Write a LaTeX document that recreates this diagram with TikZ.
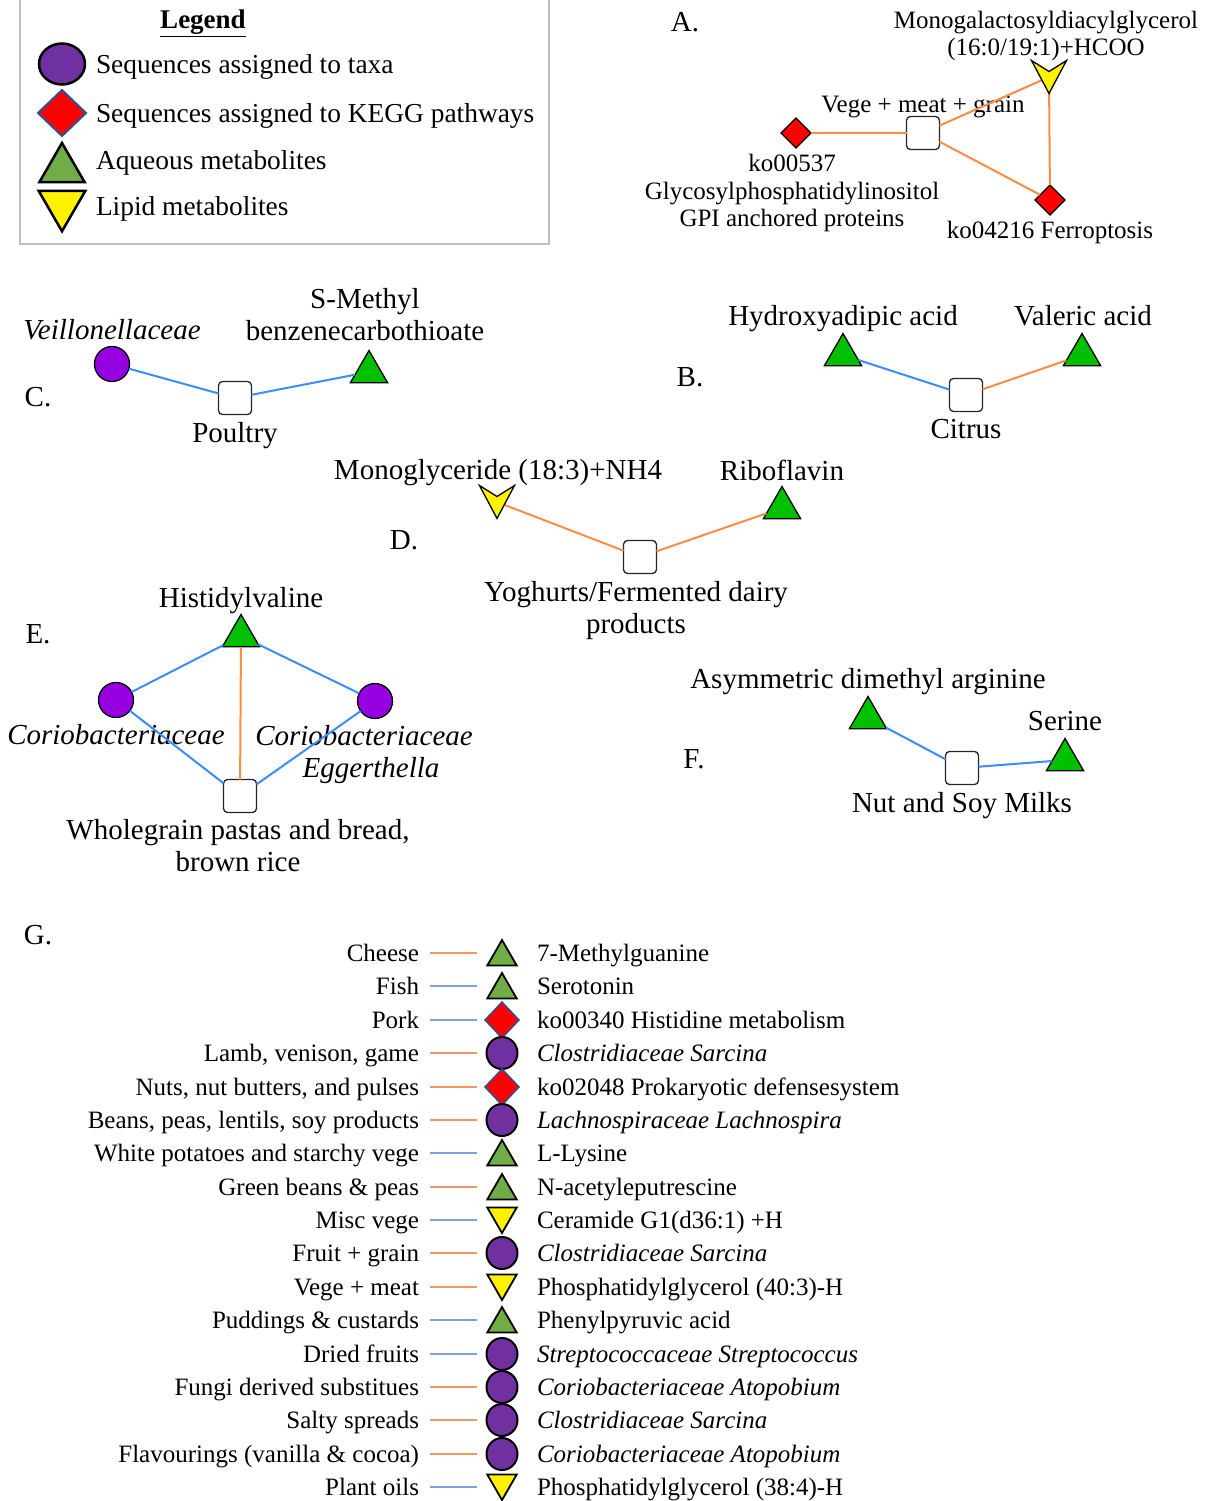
\documentclass[tikz,border=0pt]{standalone}
\usepackage{fontspec}
\setmainfont{Liberation Serif}
\usetikzlibrary{shapes.geometric,positioning}

\begin{document}
\begin{tikzpicture}[x=1pt,y=-1pt,
  every node/.style={inner sep=0pt,outer sep=0pt},
  txt/.style={font=\fontsize{29}{32}\selectfont,align=center},
  txta/.style={font=\fontsize{25}{27.5}\selectfont,align=center},
  txtl/.style={font=\fontsize{27.4}{30}\selectfont,anchor=west},
  txtg/.style={font=\fontsize{25}{30}\selectfont,text height=17pt,text depth=6pt},
  % network shapes
  sq/.style={draw=black!85,line width=1.3pt,rounded corners=4pt,fill=white,minimum size=33pt},
  ncirc/.style={circle,draw,line width=1.3pt,fill=nviolet,minimum size=35pt},
  ntri/.style={regular polygon,regular polygon sides=3,draw,line width=1.3pt,fill=ngreen,minimum size=43pt,yshift=-5pt},
  ndia/.style={diamond,draw,line width=1.3pt,fill=red,minimum size=30pt},
  vmark/.style={minimum width=35pt,minimum height=33pt},
  vfill/.style={draw,line width=1.3pt,fill=yellow,line join=miter},
  oedge/.style={draw=eorange,line width=2pt},
  bedge/.style={draw=eblue,line width=2pt},
  % legend and list shapes
  lcirc/.style={ellipse,draw,line width=2.5pt,fill=lpurple,minimum width=46pt,minimum height=41pt},
  ldia/.style={diamond,draw=lblue,line width=2pt,fill=red,minimum width=48pt,minimum height=46pt},
  ltri/.style={regular polygon,regular polygon sides=3,draw,line width=2.5pt,fill=lgreen,minimum size=52pt,yshift=-6.5pt},
  ldown/.style={regular polygon,regular polygon sides=3,regular polygon rotate=180,draw,line width=2.5pt,fill=yellow,minimum size=54pt,yshift=6.75pt},
  gtri/.style={regular polygon,regular polygon sides=3,draw,line width=1.8pt,fill=lgreen,minimum size=34pt,yshift=-4pt},
  gdown/.style={regular polygon,regular polygon sides=3,regular polygon rotate=180,draw,line width=1.8pt,fill=yellow,minimum size=34pt,yshift=4pt},
  gdia/.style={diamond,draw=lblue,line width=1.5pt,fill=red,minimum width=34pt,minimum height=36pt},
  gcirc/.style={ellipse,draw,line width=2pt,fill=lpurple,minimum width=31pt,minimum height=32pt},
  go/.style={draw=gorange,line width=2pt},
  gb/.style={draw=gblue,line width=2pt}]
\definecolor{nviolet}{RGB}{150,0,225}
\definecolor{ngreen}{RGB}{0,192,0}
\definecolor{lpurple}{RGB}{112,48,160}
\definecolor{lgreen}{RGB}{112,173,71}
\definecolor{lblue}{RGB}{47,82,143}
\definecolor{eorange}{RGB}{255,140,66}
\definecolor{eblue}{RGB}{60,140,255}
\definecolor{gorange}{RGB}{248,150,95}
\definecolor{gblue}{RGB}{130,160,220}
\useasboundingbox[fill=white] (0,0) rectangle (1209,1501);

% Legend
\draw[black!25,line width=1.2pt] (20,-10) rectangle (549,244);
\node[font=\fontsize{27}{30}\selectfont\bfseries] (legtitle) at (203,23) {\underline{Legend}};
\node[lcirc] (legtaxa) at (62,64) {};
\node[ldia] (legkegg) at (62,113) {};
\node[ltri] (legaq) at (62,162.5) {};
\node[ldown] (leglip) at (62,211) {};
\node[txtl] (legtaxat) at (96,67) {Sequences assigned to taxa};
\node[txtl] (legkeggt) at (96,116) {Sequences assigned to KEGG pathways};
\node[txtl] (legaqt) at (96,163) {Aqueous metabolites};
\node[txtl] (leglipt) at (96,209) {Lipid metabolites};

% Panel A
\node[txt] (pa) at (685,22) {A.};
\node[sq] (vmg) at (923,133) {};
\node[ndia] (ko537) at (796,133) {};
\node[vmark] (mgdg) at (1049,77) {};
\node[ndia] (ko4216) at (1050,200) {};
\node[txta] (vmgt) at (923,107) {Vege + meat + grain};
\node[txta] (ko537t) at (792,193) {ko00537\\Glycosylphosphatidylinositol\\GPI anchored proteins};
\node[txta] (mgdgt) at (1046,36) {Monogalactosyldiacylglycerol\\(16:0/19:1)+HCOO};
\node[txta] (ko4216t) at (1050,232) {ko04216 Ferroptosis};
\draw[oedge] (vmg) -- (ko537);
\draw[oedge] (vmg) -- (mgdg.center);
\draw[oedge] (vmg) -- (ko4216);
\draw[oedge] (mgdg.center) -- (ko4216);

% Panel B
\node[txt] (pb) at (690,377) {B.};
\node[ntri] (hyd) at (843,350) {};
\node[ntri] (val) at (1082,350) {};
\node[sq] (citrus) at (966,395) {};
\node[txt] (hydt) at (843,319) {Hydroxyadipic acid};
\node[txt] (valt) at (1083,316) {Valeric acid};
\node[txt] (citrust) at (966,429) {Citrus};
\draw[bedge] (hyd) -- (citrus);
\draw[oedge] (val) -- (citrus);

% Panel C
\node[txt] (pc) at (38,397) {C.};
\node[ncirc] (veil) at (112,364) {};
\node[sq] (poultry) at (235,398) {};
\node[ntri] (smb) at (369,367) {};
\node[txt] (veilt) at (112,330) {\textit{Veillonellaceae}};
\node[txt] (poultryt) at (235,436) {Poultry};
\node[txt] (smbt) at (365,315) {S-Methyl\\benzenecarbothioate};
\draw[bedge] (veil) -- (poultry);
\draw[bedge] (smb) -- (poultry);

% Panel D
\node[txt] (pd) at (404,540) {D.};
\node[vmark] (mono) at (497,502) {};
\node[ntri] (ribo) at (782,503) {};
\node[sq] (yog) at (640,557) {};
\node[txt] (monot) at (498,473) {Monoglyceride (18:3)+NH4};
\node[txt] (ribot) at (782,470) {Riboflavin};
\node[txt] (yogt) at (636,611) {Yoghurts/Fermented dairy\\products};
\draw[oedge] (mono.center) -- (yog);
\draw[oedge] (ribo) -- (yog);

% Panel E
\node[txt] (pe) at (38,634) {E.};
\node[ntri] (hist) at (241,631) {};
\node[ncirc] (corio) at (116,700) {};
\node[ncirc] (egg) at (375,701) {};
\node[sq] (whole) at (240,796) {};
\node[txt] (histt) at (241,601) {Histidylvaline};
\node[txt] (coriot) at (116,735) {\textit{Coriobacteriaceae}};
\node[txt] (eggt) at (364,755) {\textit{Coriobacteriaceae}\\\hspace*{14pt}\textit{Eggerthella}};
\node[txt] (wholet) at (238,846) {Wholegrain pastas and bread,\\brown rice};
\draw[bedge] (hist) -- (corio);
\draw[bedge] (hist) -- (egg);
\draw[oedge] (hist) -- (whole);
\draw[bedge] (corio) -- (whole);
\draw[bedge] (egg) -- (whole);

% Panel F
\node[txt] (pf) at (694,759) {F.};
\node[ntri] (adma) at (868,713) {};
\node[ntri] (serine) at (1065,755) {};
\node[sq] (nut) at (962,768) {};
\node[txt] (admat) at (868,682) {Asymmetric dimethyl arginine};
\node[txt] (serinet) at (1065,721) {Serine};
\node[txt] (nutt) at (962,806) {Nut and Soy Milks};
\draw[bedge] (adma) -- (nut);
\draw[bedge] (serine) -- (nut);

% lipid V shapes on top of their edges
\foreach \v in {mgdg,mono}
  \draw[vfill] (\v.north west) -- ([yshift=-11pt]\v.north) -- (\v.north east) -- (\v.south) -- cycle;

% Panel G
\node[txt] (pg) at (38,935) {G.};
\foreach \food/\col/\sym/\item [count=\i] in {
  Cheese/go/gtri/7-Methylguanine,
  Fish/gb/gtri/Serotonin,
  Pork/gb/gdia/ko00340 Histidine metabolism,
  {Lamb, venison, game}/go/gcirc/\textit{Clostridiaceae Sarcina},
  {Nuts, nut butters, and pulses}/go/gdia/ko02048 Prokaryotic defensesystem,
  {Beans, peas, lentils, soy products}/go/gcirc/\textit{Lachnospiraceae Lachnospira},
  White potatoes and starchy vege/gb/gtri/L-Lysine,
  Green beans \& peas/go/gtri/N-acetyleputrescine,
  Misc vege/gb/gdown/Ceramide G1(d36:1) +H,
  Fruit + grain/go/gcirc/\textit{Clostridiaceae Sarcina},
  Vege + meat/go/gdown/Phosphatidylglycerol (40:3)-H,
  Puddings \& custards/gb/gtri/Phenylpyruvic acid,
  Dried fruits/gb/gcirc/\textit{Streptococcaceae Streptococcus},
  Fungi derived substitues/go/gcirc/\textit{Coriobacteriaceae Atopobium},
  Salty spreads/go/gcirc/\textit{Clostridiaceae Sarcina},
  Flavourings (vanilla \& cocoa)/go/gcirc/\textit{Coriobacteriaceae Atopobium},
  Plant oils/gb/gdown/Phosphatidylglycerol (38:4)-H}
{
  \pgfmathtruncatemacro{\y}{953.5+33.375*(\i-1)}
  \node[txtg,anchor=east] (food\i) at (419,\y+3) {\food};
  \node[\sym] (sym\i) at (502,\y) {};
  \node[txtg,anchor=west] (item\i) at (537,\y+3) {\item};
  \draw[\col,shorten <=11pt,shorten >=25pt] ([yshift=3pt]food\i.east) -- ([yshift=3pt]food\i.east -| sym\i.center);
}
\end{tikzpicture}
\end{document}
